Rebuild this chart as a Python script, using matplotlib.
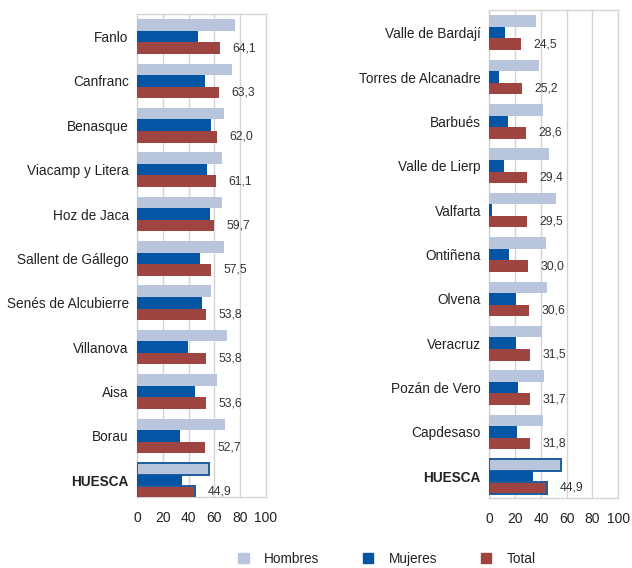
import matplotlib.pyplot as plt
from matplotlib.patches import Patch

plt.rcParams['font.family'] = ['Liberation Sans', 'DejaVu Sans']

# left panel: highest values
left_names = ["Fanlo", "Canfranc", "Benasque", "Viacamp y Litera", "Hoz de Jaca",
              "Sallent de Gállego", "Senés de Alcubierre", "Villanova", "Aisa", "Borau", "HUESCA"]
left_hombres = [76, 73.4, 67.4, 65.9, 65.6, 67.2, 57.1, 69.5, 61.8, 68, 56]
left_mujeres = [47, 52.7, 57.4, 54.5, 56.6, 48.8, 50.6, 39.3, 45, 33, 34.6]
left_total = [64.1, 63.3, 62.0, 61.1, 59.7, 57.5, 53.8, 53.8, 53.6, 52.7, 44.9]

# right panel: lowest values
right_names = ["Valle de Bardají", "Torres de Alcanadre", "Barbués", "Valle de Lierp", "Valfarta",
               "Ontiñena", "Olvena", "Veracruz", "Pozán de Vero", "Capdesaso", "HUESCA"]
right_hombres = [35.9, 38.3, 41.4, 46, 51.7, 44, 45, 40.6, 42.2, 41.4, 55.8]
right_mujeres = [12.2, 7.3, 14.8, 11.7, 2.1, 15.3, 20.4, 20.9, 22.5, 21.7, 34.1]
right_total = [24.5, 25.2, 28.6, 29.4, 29.5, 30.0, 30.6, 31.5, 31.7, 31.8, 44.9]

c_h = '#b8c5dd'
c_m = '#0455a4'
c_t = '#9e4541'
edge_hl = '#1f5c9e'
grid_c = '#d4d4d4'

fig = plt.figure(figsize=(6.32, 5.68), dpi=100)


def panel(rect, names, hom, muj, tot, ylim):
    ax = fig.add_axes(rect)
    h = 0.26
    n = len(names)
    pos = list(range(n))
    for i in pos:
        last = names[i] == "HUESCA"
        ec = edge_hl if last else 'none'
        lw = 1.4 if last else 0
        ax.barh(i - h, hom[i], height=h, color=c_h, edgecolor=ec, linewidth=lw, zorder=3)
        ax.barh(i, muj[i], height=h, color=c_m, edgecolor='none', zorder=3)
        ax.barh(i + h, tot[i], height=h, color=c_t, edgecolor=ec, linewidth=lw, zorder=3)
        ax.annotate(f"{tot[i]:.1f}".replace('.', ','), xy=(tot[i], i + h),
                    xytext=(9, 0), textcoords='offset points', ha='left', va='center',
                    fontsize=8.7, color='#333333')
    ax.set_xlim(0, 100)
    ax.set_ylim(*ylim)
    ax.set_xticks([0, 20, 40, 60, 80, 100])
    ax.set_yticks(pos)
    ax.set_yticklabels(names)
    for lab in ax.get_yticklabels():
        if lab.get_text() == "HUESCA":
            lab.set_fontweight('bold')
    ax.tick_params(axis='x', length=0, pad=10, labelsize=10, colors='#222222')
    ax.tick_params(axis='y', length=0, pad=6, labelsize=9.8, colors='#222222')
    ax.grid(axis='x', color=grid_c, linewidth=1, zorder=0)
    for s in ax.spines.values():
        s.set_color(grid_c)
        s.set_linewidth(1)
    return ax


panel([0.2168, 0.125, 0.2041, 0.8504], left_names, left_hombres, left_mujeres, left_total,
      (10.376, -0.507))
panel([0.7742, 0.1232, 0.2041, 0.859], right_names, right_hombres, right_mujeres, right_total,
      (10.49, -0.51))

handles = [Patch(color=c_h, label='Hombres'), Patch(color=c_m, label='Mujeres'),
           Patch(color=c_t, label='Total')]
fig.legend(handles=handles, loc='center left', bbox_to_anchor=(231 / 632, 1 - 559 / 568),
           ncol=3, frameon=False, fontsize=9.8, handlelength=0.8, handleheight=0.8,
           handletextpad=1.1, columnspacing=3.2, borderpad=0, labelcolor='#222222')

fig.savefig('out.png', dpi=100)
